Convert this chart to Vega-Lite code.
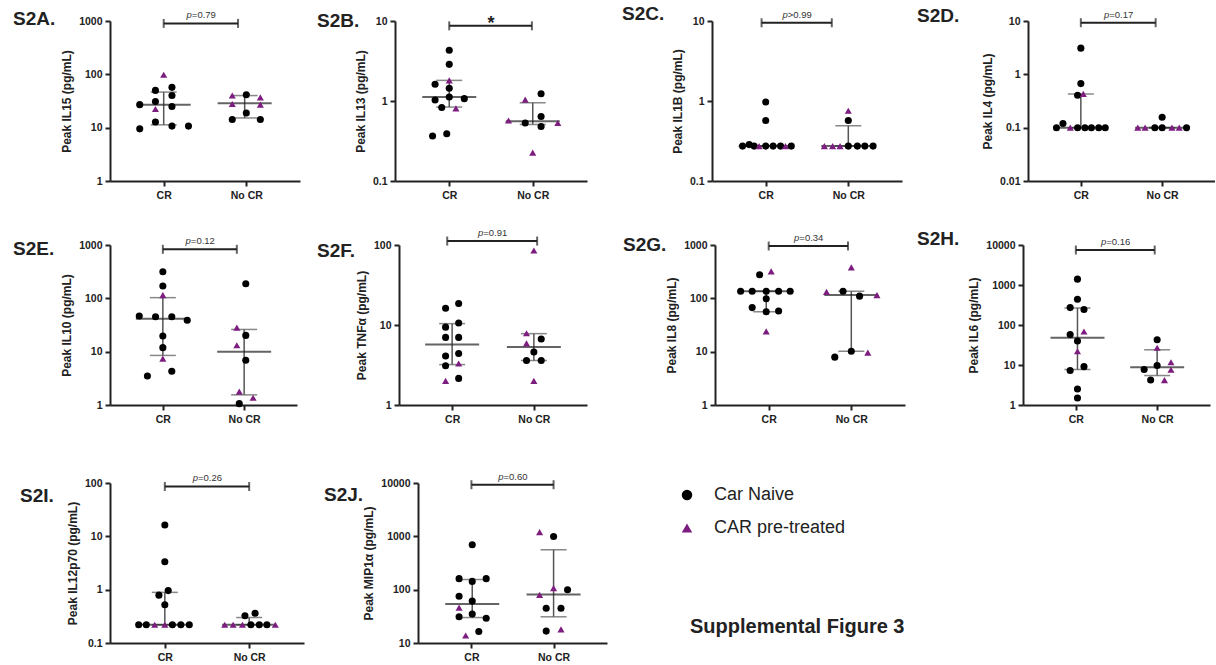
{
"$schema":"https://vega.github.io/schema/vega-lite/v6.json",
"background":"white",
"padding":{"left":13,"top":4,"right":0,"bottom":0},
"config":{
 "view":{"stroke":null},
 "font":"Liberation Sans",
 "title":{"fontSize":19,"fontWeight":"bold","color":"#222","font":"Liberation Sans","anchor":"start","frame":"group","offset":4},
 "axis":{"grid":false,"domainColor":"#222","domainWidth":2,"tickColor":"#222","tickWidth":2,"tickSize":5,"labelFont":"Liberation Sans","labelFontWeight":"bold","labelFontSize":10.5,"labelColor":"#222","labelPadding":3,"titleFont":"Liberation Sans","titleFontWeight":"bold","titleFontSize":12,"titleColor":"#222","titlePadding":5},
 "axisX":{"labelAngle":0,"labelPadding":4},
 "legend":{"orient":"none","legendX":580,"legendY":465,"symbolSize":110,"symbolStrokeWidth":0,"symbolOffset":-12,"labelFont":"Liberation Sans","labelFontSize":18,"labelColor":"#222","labelOffset":18,"rowPadding":15,"padding":0,"titleOrient":"bottom","titleAnchor":"start","titleFont":"Liberation Sans","titleFontSize":20,"titleFontWeight":"bold","titleColor":"#222","titlePadding":80,"titleLimit":500}
},
"datasets":{
"pts":[
{"p":"A","x":1.0,"v":98,"s":"CAR pre-treated"},
{"p":"A","x":0.9,"v":50,"s":"Car Naive"},
{"p":"A","x":1.1,"v":57,"s":"Car Naive"},
{"p":"A","x":1.1,"v":40,"s":"Car Naive"},
{"p":"A","x":0.71,"v":27,"s":"Car Naive"},
{"p":"A","x":0.9,"v":31,"s":"Car Naive"},
{"p":"A","x":0.9,"v":22.4,"s":"CAR pre-treated"},
{"p":"A","x":1.1,"v":25,"s":"Car Naive"},
{"p":"A","x":0.9,"v":12.8,"s":"Car Naive"},
{"p":"A","x":1.1,"v":10.7,"s":"Car Naive"},
{"p":"A","x":1.3,"v":10.7,"s":"Car Naive"},
{"p":"A","x":0.71,"v":9.5,"s":"Car Naive"},
{"p":"A","x":1.83,"v":40,"s":"CAR pre-treated"},
{"p":"A","x":2.0,"v":41.5,"s":"Car Naive"},
{"p":"A","x":2.17,"v":37,"s":"CAR pre-treated"},
{"p":"A","x":1.83,"v":27.8,"s":"CAR pre-treated"},
{"p":"A","x":2.17,"v":27,"s":"CAR pre-treated"},
{"p":"A","x":2.0,"v":18.9,"s":"Car Naive"},
{"p":"A","x":1.83,"v":14.2,"s":"Car Naive"},
{"p":"A","x":2.17,"v":14.2,"s":"Car Naive"},
{"p":"B","x":1.0,"v":4.3,"s":"Car Naive"},
{"p":"B","x":1.0,"v":2.87,"s":"Car Naive"},
{"p":"B","x":1.0,"v":1.81,"s":"CAR pre-treated"},
{"p":"B","x":0.83,"v":1.62,"s":"Car Naive"},
{"p":"B","x":1.0,"v":1.44,"s":"Car Naive"},
{"p":"B","x":0.83,"v":1.03,"s":"Car Naive"},
{"p":"B","x":1.0,"v":1.12,"s":"Car Naive"},
{"p":"B","x":1.18,"v":1.07,"s":"Car Naive"},
{"p":"B","x":0.91,"v":0.83,"s":"Car Naive"},
{"p":"B","x":1.08,"v":0.81,"s":"CAR pre-treated"},
{"p":"B","x":0.8,"v":0.365,"s":"Car Naive"},
{"p":"B","x":0.97,"v":0.39,"s":"Car Naive"},
{"p":"B","x":1.91,"v":1.04,"s":"CAR pre-treated"},
{"p":"B","x":2.1,"v":1.23,"s":"Car Naive"},
{"p":"B","x":2.1,"v":0.64,"s":"Car Naive"},
{"p":"B","x":1.71,"v":0.57,"s":"CAR pre-treated"},
{"p":"B","x":1.91,"v":0.53,"s":"Car Naive"},
{"p":"B","x":2.1,"v":0.48,"s":"Car Naive"},
{"p":"B","x":2.3,"v":0.53,"s":"CAR pre-treated"},
{"p":"B","x":2.0,"v":0.226,"s":"CAR pre-treated"},
{"p":"C","x":1.0,"v":0.97,"s":"Car Naive"},
{"p":"C","x":1.0,"v":0.57,"s":"Car Naive"},
{"p":"C","x":0.72,"v":0.273,"s":"Car Naive"},
{"p":"C","x":0.8,"v":0.285,"s":"Car Naive"},
{"p":"C","x":0.86,"v":0.273,"s":"Car Naive"},
{"p":"C","x":0.92,"v":0.273,"s":"CAR pre-treated"},
{"p":"C","x":1.0,"v":0.273,"s":"Car Naive"},
{"p":"C","x":1.09,"v":0.273,"s":"Car Naive"},
{"p":"C","x":1.18,"v":0.273,"s":"Car Naive"},
{"p":"C","x":1.24,"v":0.273,"s":"CAR pre-treated"},
{"p":"C","x":1.31,"v":0.273,"s":"Car Naive"},
{"p":"C","x":2.0,"v":0.754,"s":"CAR pre-treated"},
{"p":"C","x":2.0,"v":0.57,"s":"Car Naive"},
{"p":"C","x":1.71,"v":0.273,"s":"CAR pre-treated"},
{"p":"C","x":1.81,"v":0.273,"s":"CAR pre-treated"},
{"p":"C","x":1.9,"v":0.273,"s":"CAR pre-treated"},
{"p":"C","x":2.0,"v":0.273,"s":"Car Naive"},
{"p":"C","x":2.11,"v":0.273,"s":"Car Naive"},
{"p":"C","x":2.2,"v":0.273,"s":"Car Naive"},
{"p":"C","x":2.3,"v":0.273,"s":"Car Naive"},
{"p":"D","x":1.0,"v":3.1,"s":"Car Naive"},
{"p":"D","x":1.0,"v":0.67,"s":"Car Naive"},
{"p":"D","x":0.96,"v":0.405,"s":"Car Naive"},
{"p":"D","x":1.03,"v":0.43,"s":"CAR pre-treated"},
{"p":"D","x":0.78,"v":0.12,"s":"Car Naive"},
{"p":"D","x":0.7,"v":0.1,"s":"Car Naive"},
{"p":"D","x":0.87,"v":0.1,"s":"CAR pre-treated"},
{"p":"D","x":0.96,"v":0.1,"s":"Car Naive"},
{"p":"D","x":1.05,"v":0.1,"s":"Car Naive"},
{"p":"D","x":1.13,"v":0.1,"s":"Car Naive"},
{"p":"D","x":1.22,"v":0.1,"s":"Car Naive"},
{"p":"D","x":1.3,"v":0.1,"s":"Car Naive"},
{"p":"D","x":2.0,"v":0.157,"s":"Car Naive"},
{"p":"D","x":1.7,"v":0.1,"s":"CAR pre-treated"},
{"p":"D","x":1.79,"v":0.1,"s":"CAR pre-treated"},
{"p":"D","x":1.91,"v":0.1,"s":"Car Naive"},
{"p":"D","x":2.0,"v":0.1,"s":"Car Naive"},
{"p":"D","x":2.12,"v":0.1,"s":"CAR pre-treated"},
{"p":"D","x":2.21,"v":0.1,"s":"CAR pre-treated"},
{"p":"D","x":2.3,"v":0.1,"s":"Car Naive"},
{"p":"E","x":1.0,"v":316,"s":"Car Naive"},
{"p":"E","x":1.0,"v":170,"s":"Car Naive"},
{"p":"E","x":1.0,"v":115,"s":"CAR pre-treated"},
{"p":"E","x":0.71,"v":46.7,"s":"Car Naive"},
{"p":"E","x":0.91,"v":45.3,"s":"Car Naive"},
{"p":"E","x":1.11,"v":45.3,"s":"Car Naive"},
{"p":"E","x":1.3,"v":38.7,"s":"Car Naive"},
{"p":"E","x":1.0,"v":19.7,"s":"Car Naive"},
{"p":"E","x":1.0,"v":11.9,"s":"Car Naive"},
{"p":"E","x":1.0,"v":7.4,"s":"CAR pre-treated"},
{"p":"E","x":0.81,"v":3.5,"s":"Car Naive"},
{"p":"E","x":1.11,"v":4.3,"s":"Car Naive"},
{"p":"E","x":2.02,"v":188,"s":"Car Naive"},
{"p":"E","x":1.91,"v":28.2,"s":"CAR pre-treated"},
{"p":"E","x":2.02,"v":20.2,"s":"Car Naive"},
{"p":"E","x":1.91,"v":13.2,"s":"CAR pre-treated"},
{"p":"E","x":2.02,"v":6.9,"s":"Car Naive"},
{"p":"E","x":1.94,"v":1.78,"s":"CAR pre-treated"},
{"p":"E","x":2.11,"v":1.37,"s":"CAR pre-treated"},
{"p":"E","x":1.94,"v":1.06,"s":"Car Naive"},
{"p":"F","x":0.92,"v":16.2,"s":"Car Naive"},
{"p":"F","x":1.08,"v":18.6,"s":"Car Naive"},
{"p":"F","x":0.92,"v":9.4,"s":"Car Naive"},
{"p":"F","x":1.08,"v":10.6,"s":"Car Naive"},
{"p":"F","x":0.92,"v":7.0,"s":"Car Naive"},
{"p":"F","x":1.08,"v":7.0,"s":"Car Naive"},
{"p":"F","x":0.92,"v":4.1,"s":"Car Naive"},
{"p":"F","x":1.08,"v":4.4,"s":"Car Naive"},
{"p":"F","x":0.92,"v":3.1,"s":"Car Naive"},
{"p":"F","x":1.08,"v":3.3,"s":"CAR pre-treated"},
{"p":"F","x":0.92,"v":2.0,"s":"CAR pre-treated"},
{"p":"F","x":1.08,"v":2.15,"s":"Car Naive"},
{"p":"F","x":2.0,"v":85.5,"s":"CAR pre-treated"},
{"p":"F","x":1.91,"v":7.9,"s":"CAR pre-treated"},
{"p":"F","x":2.09,"v":6.7,"s":"Car Naive"},
{"p":"F","x":1.91,"v":5.9,"s":"CAR pre-treated"},
{"p":"F","x":2.0,"v":4.6,"s":"Car Naive"},
{"p":"F","x":1.91,"v":3.6,"s":"Car Naive"},
{"p":"F","x":2.09,"v":3.6,"s":"Car Naive"},
{"p":"F","x":2.0,"v":2.0,"s":"CAR pre-treated"},
{"p":"G","x":0.89,"v":277,"s":"Car Naive"},
{"p":"G","x":1.03,"v":320,"s":"CAR pre-treated"},
{"p":"G","x":0.66,"v":136,"s":"Car Naive"},
{"p":"G","x":0.8,"v":136,"s":"Car Naive"},
{"p":"G","x":0.97,"v":136,"s":"Car Naive"},
{"p":"G","x":1.12,"v":136,"s":"Car Naive"},
{"p":"G","x":1.26,"v":136,"s":"Car Naive"},
{"p":"G","x":0.97,"v":98,"s":"Car Naive"},
{"p":"G","x":0.8,"v":67,"s":"Car Naive"},
{"p":"G","x":0.97,"v":56,"s":"Car Naive"},
{"p":"G","x":1.12,"v":58,"s":"Car Naive"},
{"p":"G","x":0.97,"v":24,"s":"CAR pre-treated"},
{"p":"G","x":2.0,"v":380,"s":"CAR pre-treated"},
{"p":"G","x":1.7,"v":132,"s":"CAR pre-treated"},
{"p":"G","x":1.9,"v":136,"s":"Car Naive"},
{"p":"G","x":2.1,"v":110,"s":"Car Naive"},
{"p":"G","x":2.31,"v":115,"s":"CAR pre-treated"},
{"p":"G","x":2.0,"v":10.2,"s":"Car Naive"},
{"p":"G","x":1.8,"v":7.9,"s":"Car Naive"},
{"p":"G","x":2.2,"v":9.6,"s":"CAR pre-treated"},
{"p":"H","x":1.02,"v":1400,"s":"Car Naive"},
{"p":"H","x":1.02,"v":441,"s":"Car Naive"},
{"p":"H","x":0.93,"v":272,"s":"Car Naive"},
{"p":"H","x":1.1,"v":243,"s":"Car Naive"},
{"p":"H","x":1.1,"v":69,"s":"CAR pre-treated"},
{"p":"H","x":0.93,"v":58,"s":"Car Naive"},
{"p":"H","x":1.02,"v":40,"s":"Car Naive"},
{"p":"H","x":1.02,"v":22,"s":"CAR pre-treated"},
{"p":"H","x":0.93,"v":7.3,"s":"Car Naive"},
{"p":"H","x":1.1,"v":9.1,"s":"Car Naive"},
{"p":"H","x":1.02,"v":2.5,"s":"Car Naive"},
{"p":"H","x":1.02,"v":1.5,"s":"Car Naive"},
{"p":"H","x":2.0,"v":43,"s":"Car Naive"},
{"p":"H","x":2.0,"v":27,"s":"CAR pre-treated"},
{"p":"H","x":1.84,"v":7.7,"s":"Car Naive"},
{"p":"H","x":2.0,"v":9.7,"s":"Car Naive"},
{"p":"H","x":2.17,"v":11.7,"s":"CAR pre-treated"},
{"p":"H","x":2.17,"v":7.6,"s":"CAR pre-treated"},
{"p":"H","x":1.92,"v":4.2,"s":"Car Naive"},
{"p":"H","x":2.09,"v":4.2,"s":"CAR pre-treated"},
{"p":"I","x":1.0,"v":16.3,"s":"Car Naive"},
{"p":"I","x":1.0,"v":3.35,"s":"Car Naive"},
{"p":"I","x":1.04,"v":0.96,"s":"Car Naive"},
{"p":"I","x":0.93,"v":0.79,"s":"Car Naive"},
{"p":"I","x":1.0,"v":0.52,"s":"Car Naive"},
{"p":"I","x":0.69,"v":0.22,"s":"Car Naive"},
{"p":"I","x":0.78,"v":0.22,"s":"Car Naive"},
{"p":"I","x":0.88,"v":0.22,"s":"CAR pre-treated"},
{"p":"I","x":1.0,"v":0.22,"s":"CAR pre-treated"},
{"p":"I","x":1.09,"v":0.22,"s":"Car Naive"},
{"p":"I","x":1.19,"v":0.22,"s":"Car Naive"},
{"p":"I","x":1.29,"v":0.22,"s":"Car Naive"},
{"p":"I","x":1.95,"v":0.325,"s":"Car Naive"},
{"p":"I","x":2.07,"v":0.36,"s":"Car Naive"},
{"p":"I","x":1.71,"v":0.22,"s":"CAR pre-treated"},
{"p":"I","x":1.81,"v":0.22,"s":"CAR pre-treated"},
{"p":"I","x":1.92,"v":0.22,"s":"CAR pre-treated"},
{"p":"I","x":2.02,"v":0.22,"s":"Car Naive"},
{"p":"I","x":2.12,"v":0.22,"s":"Car Naive"},
{"p":"I","x":2.21,"v":0.22,"s":"Car Naive"},
{"p":"I","x":2.31,"v":0.22,"s":"CAR pre-treated"},
{"p":"J","x":1.01,"v":697,"s":"Car Naive"},
{"p":"J","x":0.85,"v":161,"s":"Car Naive"},
{"p":"J","x":1.01,"v":143,"s":"Car Naive"},
{"p":"J","x":1.18,"v":161,"s":"Car Naive"},
{"p":"J","x":0.85,"v":75,"s":"Car Naive"},
{"p":"J","x":1.01,"v":61,"s":"Car Naive"},
{"p":"J","x":0.85,"v":46,"s":"CAR pre-treated"},
{"p":"J","x":0.85,"v":31,"s":"Car Naive"},
{"p":"J","x":1.01,"v":35,"s":"Car Naive"},
{"p":"J","x":1.18,"v":29,"s":"Car Naive"},
{"p":"J","x":1.09,"v":16.4,"s":"Car Naive"},
{"p":"J","x":0.93,"v":13.8,"s":"CAR pre-treated"},
{"p":"J","x":1.83,"v":1197,"s":"CAR pre-treated"},
{"p":"J","x":2.0,"v":990,"s":"Car Naive"},
{"p":"J","x":2.0,"v":107,"s":"CAR pre-treated"},
{"p":"J","x":2.17,"v":100,"s":"Car Naive"},
{"p":"J","x":1.83,"v":80,"s":"CAR pre-treated"},
{"p":"J","x":1.91,"v":45,"s":"Car Naive"},
{"p":"J","x":2.09,"v":45,"s":"Car Naive"},
{"p":"J","x":1.91,"v":16.7,"s":"Car Naive"},
{"p":"J","x":2.09,"v":18,"s":"CAR pre-treated"}
],
"sum":[
{"p":"A","x":1.0,"med":27,"q1":11.3,"q3":46.5},
{"p":"A","x":1.98,"med":28.6,"q1":15.2,"q3":40},
{"p":"B","x":1.0,"med":1.12,"q1":0.84,"q3":1.81},
{"p":"B","x":2.0,"med":0.56,"q1":0.51,"q3":0.95},
{"p":"C","x":1.0,"med":0.273,"q1":0.273,"q3":0.273},
{"p":"C","x":2.0,"med":0.273,"q1":0.273,"q3":0.49},
{"p":"D","x":1.0,"med":0.1,"q1":0.1,"q3":0.43},
{"p":"D","x":2.0,"med":0.1,"q1":0.1,"q3":0.1},
{"p":"E","x":1.0,"med":41.6,"q1":8.5,"q3":103},
{"p":"E","x":2.0,"med":10.0,"q1":1.55,"q3":26.1},
{"p":"F","x":1.0,"med":5.7,"q1":3.2,"q3":10.4},
{"p":"F","x":2.0,"med":5.3,"q1":3.6,"q3":7.8},
{"p":"G","x":0.97,"med":136,"q1":56,"q3":136},
{"p":"G","x":2.0,"med":115,"q1":10.2,"q3":136},
{"p":"H","x":1.02,"med":48,"q1":7.7,"q3":267},
{"p":"H","x":2.0,"med":8.8,"q1":5.45,"q3":24},
{"p":"I","x":1.0,"med":0.22,"q1":0.22,"q3":0.89},
{"p":"I","x":2.0,"med":0.22,"q1":0.22,"q3":0.3},
{"p":"J","x":1.01,"med":54,"q1":30,"q3":155},
{"p":"J","x":2.0,"med":81,"q1":31,"q3":560}
],
"br":[
{"p":"A","x1":1.0,"x2":1.9,"xm":1.45,"y":900,"pl":"p","rest":"=0.79"},
{"p":"B","x1":1.0,"x2":1.99,"xm":1.5,"y":8.7,"pl":"","rest":"*"},
{"p":"C","x1":0.95,"x2":1.8,"xm":1.375,"y":9.5,"pl":"p","rest":">0.99"},
{"p":"D","x1":1.0,"x2":1.92,"xm":1.46,"y":9.3,"pl":"p","rest":"=0.17"},
{"p":"E","x1":1.0,"x2":1.91,"xm":1.455,"y":830,"pl":"p","rest":"=0.12"},
{"p":"F","x1":0.94,"x2":2.04,"xm":1.49,"y":112,"pl":"p","rest":"=0.91"},
{"p":"G","x1":1.0,"x2":1.96,"xm":1.48,"y":958,"pl":"p","rest":"=0.34"},
{"p":"H","x1":1.0,"x2":1.97,"xm":1.485,"y":7490,"pl":"p","rest":"=0.16"},
{"p":"I","x1":1.0,"x2":2.0,"xm":1.5,"y":86,"pl":"p","rest":"=0.26"},
{"p":"J","x1":1.0,"x2":2.0,"xm":1.5,"y":9290,"pl":"p","rest":"=0.60"}
]
},
"spacing":46,
"vconcat":[
{"spacing":27,"vconcat":[
{"spacing":35,"hconcat":[
{"spacing":17,"hconcat":[
{"width":190,"height":160,"title":{"text":"S2A.","dx":-97,"dy":23},"layer":[
{"data":{"name":"sum"},"transform":[{"filter":"datum.p==='A'"}],"mark":{"type":"rule","color":"#555","strokeWidth":1.5},"encoding":{"x":{"field":"x","type":"quantitative"},"y":{"field":"q1","type":"quantitative"},"y2":{"field":"q3"}}},
{"data":{"name":"sum"},"transform":[{"filter":"datum.p==='A'"}],"mark":{"type":"tick","orient":"horizontal","size":26,"thickness":1.5,"color":"#555"},"encoding":{"x":{"field":"x","type":"quantitative"},"y":{"field":"q1","type":"quantitative"}}},
{"data":{"name":"sum"},"transform":[{"filter":"datum.p==='A'"}],"mark":{"type":"tick","orient":"horizontal","size":26,"thickness":1.5,"color":"#555"},"encoding":{"x":{"field":"x","type":"quantitative"},"y":{"field":"q3","type":"quantitative"}}},
{"data":{"name":"sum"},"transform":[{"filter":"datum.p==='A'"}],"mark":{"type":"tick","orient":"horizontal","size":54,"thickness":2,"color":"#222"},"encoding":{"x":{"field":"x","type":"quantitative"},"y":{"field":"med","type":"quantitative"}}},
{"data":{"name":"br"},"transform":[{"filter":"datum.p==='A'"}],"mark":{"type":"rule","color":"#222","strokeWidth":2},"encoding":{"x":{"field":"x1","type":"quantitative"},"x2":{"field":"x2"},"y":{"field":"y","type":"quantitative"}}},
{"data":{"name":"br"},"transform":[{"filter":"datum.p==='A'"}],"mark":{"type":"tick","orient":"vertical","size":9,"thickness":2,"color":"#222"},"encoding":{"x":{"field":"x1","type":"quantitative"},"y":{"field":"y","type":"quantitative"}}},
{"data":{"name":"br"},"transform":[{"filter":"datum.p==='A'"}],"mark":{"type":"tick","orient":"vertical","size":9,"thickness":2,"color":"#222"},"encoding":{"x":{"field":"x2","type":"quantitative"},"y":{"field":"y","type":"quantitative"}}},
{"data":{"name":"br"},"transform":[{"filter":"datum.p==='A'"}],"mark":{"type":"text","align":"right","baseline":"middle","dx":-9,"dy":-8,"fontSize":9.5,"fontStyle":"italic","color":"#333"},"encoding":{"x":{"field":"xm","type":"quantitative"},"y":{"field":"y","type":"quantitative"},"text":{"field":"pl"}}},
{"data":{"name":"br"},"transform":[{"filter":"datum.p==='A'"}],"mark":{"type":"text","align":"left","baseline":"middle","dx":-9,"dy":-8,"fontSize":9.5,"color":"#333"},"encoding":{"x":{"field":"xm","type":"quantitative"},"y":{"field":"y","type":"quantitative"},"text":{"field":"rest"}}},
{"data":{"name":"pts"},"transform":[{"filter":"datum.p==='A'"}],"mark":{"type":"point","filled":true,"size":50,"opacity":1},"encoding":{"x":{"field":"x","type":"quantitative","scale":{"domain":[0.35,2.65],"nice":false,"zero":false},"axis":{"values":[1,2],"labelExpr":"datum.value == 1 ? 'CR' : 'No CR'","title":null}},"y":{"field":"v","type":"quantitative","scale":{"type":"log","domain":[1,1000]},"axis":{"values":[1,10,100,1000],"format":"~g","title":"Peak IL15 (pg/mL)"}},"color":{"field":"s","type":"nominal","scale":{"domain":["Car Naive","CAR pre-treated"],"range":["#000000","#7d1d80"]},"title":"Supplemental Figure 3"},"shape":{"field":"s","type":"nominal","scale":{"domain":["Car Naive","CAR pre-treated"],"range":["circle","triangle-up"]},"title":"Supplemental Figure 3"}}}
]},
{"width":192,"height":160,"title":{"text":"S2B.","dx":-78,"dy":20},"layer":[
{"data":{"name":"sum"},"transform":[{"filter":"datum.p==='B'"}],"mark":{"type":"rule","color":"#555","strokeWidth":1.5},"encoding":{"x":{"field":"x","type":"quantitative"},"y":{"field":"q1","type":"quantitative"},"y2":{"field":"q3"}}},
{"data":{"name":"sum"},"transform":[{"filter":"datum.p==='B'"}],"mark":{"type":"tick","orient":"horizontal","size":26,"thickness":1.5,"color":"#555"},"encoding":{"x":{"field":"x","type":"quantitative"},"y":{"field":"q1","type":"quantitative"}}},
{"data":{"name":"sum"},"transform":[{"filter":"datum.p==='B'"}],"mark":{"type":"tick","orient":"horizontal","size":26,"thickness":1.5,"color":"#555"},"encoding":{"x":{"field":"x","type":"quantitative"},"y":{"field":"q3","type":"quantitative"}}},
{"data":{"name":"sum"},"transform":[{"filter":"datum.p==='B'"}],"mark":{"type":"tick","orient":"horizontal","size":54,"thickness":2,"color":"#222"},"encoding":{"x":{"field":"x","type":"quantitative"},"y":{"field":"med","type":"quantitative"}}},
{"data":{"name":"br"},"transform":[{"filter":"datum.p==='B'"}],"mark":{"type":"rule","color":"#222","strokeWidth":2},"encoding":{"x":{"field":"x1","type":"quantitative"},"x2":{"field":"x2"},"y":{"field":"y","type":"quantitative"}}},
{"data":{"name":"br"},"transform":[{"filter":"datum.p==='B'"}],"mark":{"type":"tick","orient":"vertical","size":9,"thickness":2,"color":"#222"},"encoding":{"x":{"field":"x1","type":"quantitative"},"y":{"field":"y","type":"quantitative"}}},
{"data":{"name":"br"},"transform":[{"filter":"datum.p==='B'"}],"mark":{"type":"tick","orient":"vertical","size":9,"thickness":2,"color":"#222"},"encoding":{"x":{"field":"x2","type":"quantitative"},"y":{"field":"y","type":"quantitative"}}},
{"data":{"name":"br"},"transform":[{"filter":"datum.p==='B'"}],"mark":{"type":"text","align":"center","baseline":"middle","dy":-2,"fontSize":18,"fontWeight":"bold","color":"#222"},"encoding":{"x":{"field":"xm","type":"quantitative"},"y":{"field":"y","type":"quantitative"},"text":{"field":"rest"}}},
{"data":{"name":"pts"},"transform":[{"filter":"datum.p==='B'"}],"mark":{"type":"point","filled":true,"size":50,"opacity":1},"encoding":{"x":{"field":"x","type":"quantitative","scale":{"domain":[0.35,2.65],"nice":false,"zero":false},"axis":{"values":[1,2],"labelExpr":"datum.value == 1 ? 'CR' : 'No CR'","title":null}},"y":{"field":"v","type":"quantitative","scale":{"type":"log","domain":[0.1,10]},"axis":{"values":[0.1,1,10],"format":"~g","title":"Peak IL13 (pg/mL)"}},"color":{"field":"s","type":"nominal","scale":{"domain":["Car Naive","CAR pre-treated"],"range":["#000000","#7d1d80"]},"title":"Supplemental Figure 3"},"shape":{"field":"s","type":"nominal","scale":{"domain":["Car Naive","CAR pre-treated"],"range":["circle","triangle-up"]},"title":"Supplemental Figure 3"}}}
]}
]},
{"spacing":15,"hconcat":[
{"width":190,"height":160,"title":{"text":"S2C.","dx":-90,"dy":18},"layer":[
{"data":{"name":"sum"},"transform":[{"filter":"datum.p==='C'"}],"mark":{"type":"rule","color":"#555","strokeWidth":1.5},"encoding":{"x":{"field":"x","type":"quantitative"},"y":{"field":"q1","type":"quantitative"},"y2":{"field":"q3"}}},
{"data":{"name":"sum"},"transform":[{"filter":"datum.p==='C'"}],"mark":{"type":"tick","orient":"horizontal","size":26,"thickness":1.5,"color":"#555"},"encoding":{"x":{"field":"x","type":"quantitative"},"y":{"field":"q1","type":"quantitative"}}},
{"data":{"name":"sum"},"transform":[{"filter":"datum.p==='C'"}],"mark":{"type":"tick","orient":"horizontal","size":26,"thickness":1.5,"color":"#555"},"encoding":{"x":{"field":"x","type":"quantitative"},"y":{"field":"q3","type":"quantitative"}}},
{"data":{"name":"sum"},"transform":[{"filter":"datum.p==='C'"}],"mark":{"type":"tick","orient":"horizontal","size":54,"thickness":2,"color":"#222"},"encoding":{"x":{"field":"x","type":"quantitative"},"y":{"field":"med","type":"quantitative"}}},
{"data":{"name":"br"},"transform":[{"filter":"datum.p==='C'"}],"mark":{"type":"rule","color":"#222","strokeWidth":2},"encoding":{"x":{"field":"x1","type":"quantitative"},"x2":{"field":"x2"},"y":{"field":"y","type":"quantitative"}}},
{"data":{"name":"br"},"transform":[{"filter":"datum.p==='C'"}],"mark":{"type":"tick","orient":"vertical","size":9,"thickness":2,"color":"#222"},"encoding":{"x":{"field":"x1","type":"quantitative"},"y":{"field":"y","type":"quantitative"}}},
{"data":{"name":"br"},"transform":[{"filter":"datum.p==='C'"}],"mark":{"type":"tick","orient":"vertical","size":9,"thickness":2,"color":"#222"},"encoding":{"x":{"field":"x2","type":"quantitative"},"y":{"field":"y","type":"quantitative"}}},
{"data":{"name":"br"},"transform":[{"filter":"datum.p==='C'"}],"mark":{"type":"text","align":"right","baseline":"middle","dx":-9,"dy":-8,"fontSize":9.5,"fontStyle":"italic","color":"#333"},"encoding":{"x":{"field":"xm","type":"quantitative"},"y":{"field":"y","type":"quantitative"},"text":{"field":"pl"}}},
{"data":{"name":"br"},"transform":[{"filter":"datum.p==='C'"}],"mark":{"type":"text","align":"left","baseline":"middle","dx":-9,"dy":-8,"fontSize":9.5,"color":"#333"},"encoding":{"x":{"field":"xm","type":"quantitative"},"y":{"field":"y","type":"quantitative"},"text":{"field":"rest"}}},
{"data":{"name":"pts"},"transform":[{"filter":"datum.p==='C'"}],"mark":{"type":"point","filled":true,"size":50,"opacity":1},"encoding":{"x":{"field":"x","type":"quantitative","scale":{"domain":[0.35,2.65],"nice":false,"zero":false},"axis":{"values":[1,2],"labelExpr":"datum.value == 1 ? 'CR' : 'No CR'","title":null}},"y":{"field":"v","type":"quantitative","scale":{"type":"log","domain":[0.1,10]},"axis":{"values":[0.1,1,10],"format":"~g","title":"Peak IL1B (pg/mL)"}},"color":{"field":"s","type":"nominal","scale":{"domain":["Car Naive","CAR pre-treated"],"range":["#000000","#7d1d80"]},"title":"Supplemental Figure 3"},"shape":{"field":"s","type":"nominal","scale":{"domain":["Car Naive","CAR pre-treated"],"range":["circle","triangle-up"]},"title":"Supplemental Figure 3"}}}
]},
{"width":187,"height":160,"title":{"text":"S2D.","dx":-111,"dy":20},"layer":[
{"data":{"name":"sum"},"transform":[{"filter":"datum.p==='D'"}],"mark":{"type":"rule","color":"#555","strokeWidth":1.5},"encoding":{"x":{"field":"x","type":"quantitative"},"y":{"field":"q1","type":"quantitative"},"y2":{"field":"q3"}}},
{"data":{"name":"sum"},"transform":[{"filter":"datum.p==='D'"}],"mark":{"type":"tick","orient":"horizontal","size":26,"thickness":1.5,"color":"#555"},"encoding":{"x":{"field":"x","type":"quantitative"},"y":{"field":"q1","type":"quantitative"}}},
{"data":{"name":"sum"},"transform":[{"filter":"datum.p==='D'"}],"mark":{"type":"tick","orient":"horizontal","size":26,"thickness":1.5,"color":"#555"},"encoding":{"x":{"field":"x","type":"quantitative"},"y":{"field":"q3","type":"quantitative"}}},
{"data":{"name":"sum"},"transform":[{"filter":"datum.p==='D'"}],"mark":{"type":"tick","orient":"horizontal","size":54,"thickness":2,"color":"#222"},"encoding":{"x":{"field":"x","type":"quantitative"},"y":{"field":"med","type":"quantitative"}}},
{"data":{"name":"br"},"transform":[{"filter":"datum.p==='D'"}],"mark":{"type":"rule","color":"#222","strokeWidth":2},"encoding":{"x":{"field":"x1","type":"quantitative"},"x2":{"field":"x2"},"y":{"field":"y","type":"quantitative"}}},
{"data":{"name":"br"},"transform":[{"filter":"datum.p==='D'"}],"mark":{"type":"tick","orient":"vertical","size":9,"thickness":2,"color":"#222"},"encoding":{"x":{"field":"x1","type":"quantitative"},"y":{"field":"y","type":"quantitative"}}},
{"data":{"name":"br"},"transform":[{"filter":"datum.p==='D'"}],"mark":{"type":"tick","orient":"vertical","size":9,"thickness":2,"color":"#222"},"encoding":{"x":{"field":"x2","type":"quantitative"},"y":{"field":"y","type":"quantitative"}}},
{"data":{"name":"br"},"transform":[{"filter":"datum.p==='D'"}],"mark":{"type":"text","align":"right","baseline":"middle","dx":-9,"dy":-8,"fontSize":9.5,"fontStyle":"italic","color":"#333"},"encoding":{"x":{"field":"xm","type":"quantitative"},"y":{"field":"y","type":"quantitative"},"text":{"field":"pl"}}},
{"data":{"name":"br"},"transform":[{"filter":"datum.p==='D'"}],"mark":{"type":"text","align":"left","baseline":"middle","dx":-9,"dy":-8,"fontSize":9.5,"color":"#333"},"encoding":{"x":{"field":"xm","type":"quantitative"},"y":{"field":"y","type":"quantitative"},"text":{"field":"rest"}}},
{"data":{"name":"pts"},"transform":[{"filter":"datum.p==='D'"}],"mark":{"type":"point","filled":true,"size":50,"opacity":1},"encoding":{"x":{"field":"x","type":"quantitative","scale":{"domain":[0.35,2.65],"nice":false,"zero":false},"axis":{"values":[1,2],"labelExpr":"datum.value == 1 ? 'CR' : 'No CR'","title":null}},"y":{"field":"v","type":"quantitative","scale":{"type":"log","domain":[0.01,10]},"axis":{"values":[0.01,0.1,1,10],"format":"~g","title":"Peak IL4 (pg/mL)"}},"color":{"field":"s","type":"nominal","scale":{"domain":["Car Naive","CAR pre-treated"],"range":["#000000","#7d1d80"]},"title":"Supplemental Figure 3"},"shape":{"field":"s","type":"nominal","scale":{"domain":["Car Naive","CAR pre-treated"],"range":["circle","triangle-up"]},"title":"Supplemental Figure 3"}}}
]}
]}
]},
{"spacing":36,"hconcat":[
{"spacing":20,"hconcat":[
{"width":187,"height":160,"title":{"text":"S2E.","dx":-97,"dy":27},"layer":[
{"data":{"name":"sum"},"transform":[{"filter":"datum.p==='E'"}],"mark":{"type":"rule","color":"#555","strokeWidth":1.5},"encoding":{"x":{"field":"x","type":"quantitative"},"y":{"field":"q1","type":"quantitative"},"y2":{"field":"q3"}}},
{"data":{"name":"sum"},"transform":[{"filter":"datum.p==='E'"}],"mark":{"type":"tick","orient":"horizontal","size":26,"thickness":1.5,"color":"#555"},"encoding":{"x":{"field":"x","type":"quantitative"},"y":{"field":"q1","type":"quantitative"}}},
{"data":{"name":"sum"},"transform":[{"filter":"datum.p==='E'"}],"mark":{"type":"tick","orient":"horizontal","size":26,"thickness":1.5,"color":"#555"},"encoding":{"x":{"field":"x","type":"quantitative"},"y":{"field":"q3","type":"quantitative"}}},
{"data":{"name":"sum"},"transform":[{"filter":"datum.p==='E'"}],"mark":{"type":"tick","orient":"horizontal","size":54,"thickness":2,"color":"#222"},"encoding":{"x":{"field":"x","type":"quantitative"},"y":{"field":"med","type":"quantitative"}}},
{"data":{"name":"br"},"transform":[{"filter":"datum.p==='E'"}],"mark":{"type":"rule","color":"#222","strokeWidth":2},"encoding":{"x":{"field":"x1","type":"quantitative"},"x2":{"field":"x2"},"y":{"field":"y","type":"quantitative"}}},
{"data":{"name":"br"},"transform":[{"filter":"datum.p==='E'"}],"mark":{"type":"tick","orient":"vertical","size":9,"thickness":2,"color":"#222"},"encoding":{"x":{"field":"x1","type":"quantitative"},"y":{"field":"y","type":"quantitative"}}},
{"data":{"name":"br"},"transform":[{"filter":"datum.p==='E'"}],"mark":{"type":"tick","orient":"vertical","size":9,"thickness":2,"color":"#222"},"encoding":{"x":{"field":"x2","type":"quantitative"},"y":{"field":"y","type":"quantitative"}}},
{"data":{"name":"br"},"transform":[{"filter":"datum.p==='E'"}],"mark":{"type":"text","align":"right","baseline":"middle","dx":-9,"dy":-8,"fontSize":9.5,"fontStyle":"italic","color":"#333"},"encoding":{"x":{"field":"xm","type":"quantitative"},"y":{"field":"y","type":"quantitative"},"text":{"field":"pl"}}},
{"data":{"name":"br"},"transform":[{"filter":"datum.p==='E'"}],"mark":{"type":"text","align":"left","baseline":"middle","dx":-9,"dy":-8,"fontSize":9.5,"color":"#333"},"encoding":{"x":{"field":"xm","type":"quantitative"},"y":{"field":"y","type":"quantitative"},"text":{"field":"rest"}}},
{"data":{"name":"pts"},"transform":[{"filter":"datum.p==='E'"}],"mark":{"type":"point","filled":true,"size":50,"opacity":1},"encoding":{"x":{"field":"x","type":"quantitative","scale":{"domain":[0.35,2.65],"nice":false,"zero":false},"axis":{"values":[1,2],"labelExpr":"datum.value == 1 ? 'CR' : 'No CR'","title":null}},"y":{"field":"v","type":"quantitative","scale":{"type":"log","domain":[1,1000]},"axis":{"values":[1,10,100,1000],"format":"~g","title":"Peak IL10 (pg/mL)"}},"color":{"field":"s","type":"nominal","scale":{"domain":["Car Naive","CAR pre-treated"],"range":["#000000","#7d1d80"]},"title":"Supplemental Figure 3"},"shape":{"field":"s","type":"nominal","scale":{"domain":["Car Naive","CAR pre-treated"],"range":["circle","triangle-up"]},"title":"Supplemental Figure 3"}}}
]},
{"width":188,"height":160,"title":{"text":"S2F.","dx":-82,"dy":37},"layer":[
{"data":{"name":"sum"},"transform":[{"filter":"datum.p==='F'"}],"mark":{"type":"rule","color":"#555","strokeWidth":1.5},"encoding":{"x":{"field":"x","type":"quantitative"},"y":{"field":"q1","type":"quantitative"},"y2":{"field":"q3"}}},
{"data":{"name":"sum"},"transform":[{"filter":"datum.p==='F'"}],"mark":{"type":"tick","orient":"horizontal","size":26,"thickness":1.5,"color":"#555"},"encoding":{"x":{"field":"x","type":"quantitative"},"y":{"field":"q1","type":"quantitative"}}},
{"data":{"name":"sum"},"transform":[{"filter":"datum.p==='F'"}],"mark":{"type":"tick","orient":"horizontal","size":26,"thickness":1.5,"color":"#555"},"encoding":{"x":{"field":"x","type":"quantitative"},"y":{"field":"q3","type":"quantitative"}}},
{"data":{"name":"sum"},"transform":[{"filter":"datum.p==='F'"}],"mark":{"type":"tick","orient":"horizontal","size":54,"thickness":2,"color":"#222"},"encoding":{"x":{"field":"x","type":"quantitative"},"y":{"field":"med","type":"quantitative"}}},
{"data":{"name":"br"},"transform":[{"filter":"datum.p==='F'"}],"mark":{"type":"rule","color":"#222","strokeWidth":2},"encoding":{"x":{"field":"x1","type":"quantitative"},"x2":{"field":"x2"},"y":{"field":"y","type":"quantitative"}}},
{"data":{"name":"br"},"transform":[{"filter":"datum.p==='F'"}],"mark":{"type":"tick","orient":"vertical","size":9,"thickness":2,"color":"#222"},"encoding":{"x":{"field":"x1","type":"quantitative"},"y":{"field":"y","type":"quantitative"}}},
{"data":{"name":"br"},"transform":[{"filter":"datum.p==='F'"}],"mark":{"type":"tick","orient":"vertical","size":9,"thickness":2,"color":"#222"},"encoding":{"x":{"field":"x2","type":"quantitative"},"y":{"field":"y","type":"quantitative"}}},
{"data":{"name":"br"},"transform":[{"filter":"datum.p==='F'"}],"mark":{"type":"text","align":"right","baseline":"middle","dx":-9,"dy":-8,"fontSize":9.5,"fontStyle":"italic","color":"#333"},"encoding":{"x":{"field":"xm","type":"quantitative"},"y":{"field":"y","type":"quantitative"},"text":{"field":"pl"}}},
{"data":{"name":"br"},"transform":[{"filter":"datum.p==='F'"}],"mark":{"type":"text","align":"left","baseline":"middle","dx":-9,"dy":-8,"fontSize":9.5,"color":"#333"},"encoding":{"x":{"field":"xm","type":"quantitative"},"y":{"field":"y","type":"quantitative"},"text":{"field":"rest"}}},
{"data":{"name":"pts"},"transform":[{"filter":"datum.p==='F'"}],"mark":{"type":"point","filled":true,"size":50,"opacity":1},"encoding":{"x":{"field":"x","type":"quantitative","scale":{"domain":[0.35,2.65],"nice":false,"zero":false},"axis":{"values":[1,2],"labelExpr":"datum.value == 1 ? 'CR' : 'No CR'","title":null}},"y":{"field":"v","type":"quantitative","scale":{"type":"log","domain":[1,100]},"axis":{"values":[1,10,100],"format":"~g","title":"Peak TNFα (pg/mL)"}},"color":{"field":"s","type":"nominal","scale":{"domain":["Car Naive","CAR pre-treated"],"range":["#000000","#7d1d80"]},"title":"Supplemental Figure 3"},"shape":{"field":"s","type":"nominal","scale":{"domain":["Car Naive","CAR pre-treated"],"range":["circle","triangle-up"]},"title":"Supplemental Figure 3"}}}
]}
]},
{"spacing":12,"hconcat":[
{"width":190,"height":160,"title":{"text":"S2G.","dx":-92,"dy":26},"layer":[
{"data":{"name":"sum"},"transform":[{"filter":"datum.p==='G'"}],"mark":{"type":"rule","color":"#555","strokeWidth":1.5},"encoding":{"x":{"field":"x","type":"quantitative"},"y":{"field":"q1","type":"quantitative"},"y2":{"field":"q3"}}},
{"data":{"name":"sum"},"transform":[{"filter":"datum.p==='G'"}],"mark":{"type":"tick","orient":"horizontal","size":26,"thickness":1.5,"color":"#555"},"encoding":{"x":{"field":"x","type":"quantitative"},"y":{"field":"q1","type":"quantitative"}}},
{"data":{"name":"sum"},"transform":[{"filter":"datum.p==='G'"}],"mark":{"type":"tick","orient":"horizontal","size":26,"thickness":1.5,"color":"#555"},"encoding":{"x":{"field":"x","type":"quantitative"},"y":{"field":"q3","type":"quantitative"}}},
{"data":{"name":"sum"},"transform":[{"filter":"datum.p==='G'"}],"mark":{"type":"tick","orient":"horizontal","size":54,"thickness":2,"color":"#222"},"encoding":{"x":{"field":"x","type":"quantitative"},"y":{"field":"med","type":"quantitative"}}},
{"data":{"name":"br"},"transform":[{"filter":"datum.p==='G'"}],"mark":{"type":"rule","color":"#222","strokeWidth":2},"encoding":{"x":{"field":"x1","type":"quantitative"},"x2":{"field":"x2"},"y":{"field":"y","type":"quantitative"}}},
{"data":{"name":"br"},"transform":[{"filter":"datum.p==='G'"}],"mark":{"type":"tick","orient":"vertical","size":9,"thickness":2,"color":"#222"},"encoding":{"x":{"field":"x1","type":"quantitative"},"y":{"field":"y","type":"quantitative"}}},
{"data":{"name":"br"},"transform":[{"filter":"datum.p==='G'"}],"mark":{"type":"tick","orient":"vertical","size":9,"thickness":2,"color":"#222"},"encoding":{"x":{"field":"x2","type":"quantitative"},"y":{"field":"y","type":"quantitative"}}},
{"data":{"name":"br"},"transform":[{"filter":"datum.p==='G'"}],"mark":{"type":"text","align":"right","baseline":"middle","dx":-9,"dy":-8,"fontSize":9.5,"fontStyle":"italic","color":"#333"},"encoding":{"x":{"field":"xm","type":"quantitative"},"y":{"field":"y","type":"quantitative"},"text":{"field":"pl"}}},
{"data":{"name":"br"},"transform":[{"filter":"datum.p==='G'"}],"mark":{"type":"text","align":"left","baseline":"middle","dx":-9,"dy":-8,"fontSize":9.5,"color":"#333"},"encoding":{"x":{"field":"xm","type":"quantitative"},"y":{"field":"y","type":"quantitative"},"text":{"field":"rest"}}},
{"data":{"name":"pts"},"transform":[{"filter":"datum.p==='G'"}],"mark":{"type":"point","filled":true,"size":50,"opacity":1},"encoding":{"x":{"field":"x","type":"quantitative","scale":{"domain":[0.35,2.65],"nice":false,"zero":false},"axis":{"values":[1,2],"labelExpr":"datum.value == 1 ? 'CR' : 'No CR'","title":null}},"y":{"field":"v","type":"quantitative","scale":{"type":"log","domain":[1,1000]},"axis":{"values":[1,10,100,1000],"format":"~g","title":"Peak IL8 (pg/mL)"}},"color":{"field":"s","type":"nominal","scale":{"domain":["Car Naive","CAR pre-treated"],"range":["#000000","#7d1d80"]},"title":"Supplemental Figure 3"},"shape":{"field":"s","type":"nominal","scale":{"domain":["Car Naive","CAR pre-treated"],"range":["circle","triangle-up"]},"title":"Supplemental Figure 3"}}}
]},
{"width":187,"height":160,"title":{"text":"S2H.","dx":-106,"dy":16},"layer":[
{"data":{"name":"sum"},"transform":[{"filter":"datum.p==='H'"}],"mark":{"type":"rule","color":"#555","strokeWidth":1.5},"encoding":{"x":{"field":"x","type":"quantitative"},"y":{"field":"q1","type":"quantitative"},"y2":{"field":"q3"}}},
{"data":{"name":"sum"},"transform":[{"filter":"datum.p==='H'"}],"mark":{"type":"tick","orient":"horizontal","size":26,"thickness":1.5,"color":"#555"},"encoding":{"x":{"field":"x","type":"quantitative"},"y":{"field":"q1","type":"quantitative"}}},
{"data":{"name":"sum"},"transform":[{"filter":"datum.p==='H'"}],"mark":{"type":"tick","orient":"horizontal","size":26,"thickness":1.5,"color":"#555"},"encoding":{"x":{"field":"x","type":"quantitative"},"y":{"field":"q3","type":"quantitative"}}},
{"data":{"name":"sum"},"transform":[{"filter":"datum.p==='H'"}],"mark":{"type":"tick","orient":"horizontal","size":54,"thickness":2,"color":"#222"},"encoding":{"x":{"field":"x","type":"quantitative"},"y":{"field":"med","type":"quantitative"}}},
{"data":{"name":"br"},"transform":[{"filter":"datum.p==='H'"}],"mark":{"type":"rule","color":"#222","strokeWidth":2},"encoding":{"x":{"field":"x1","type":"quantitative"},"x2":{"field":"x2"},"y":{"field":"y","type":"quantitative"}}},
{"data":{"name":"br"},"transform":[{"filter":"datum.p==='H'"}],"mark":{"type":"tick","orient":"vertical","size":9,"thickness":2,"color":"#222"},"encoding":{"x":{"field":"x1","type":"quantitative"},"y":{"field":"y","type":"quantitative"}}},
{"data":{"name":"br"},"transform":[{"filter":"datum.p==='H'"}],"mark":{"type":"tick","orient":"vertical","size":9,"thickness":2,"color":"#222"},"encoding":{"x":{"field":"x2","type":"quantitative"},"y":{"field":"y","type":"quantitative"}}},
{"data":{"name":"br"},"transform":[{"filter":"datum.p==='H'"}],"mark":{"type":"text","align":"right","baseline":"middle","dx":-9,"dy":-8,"fontSize":9.5,"fontStyle":"italic","color":"#333"},"encoding":{"x":{"field":"xm","type":"quantitative"},"y":{"field":"y","type":"quantitative"},"text":{"field":"pl"}}},
{"data":{"name":"br"},"transform":[{"filter":"datum.p==='H'"}],"mark":{"type":"text","align":"left","baseline":"middle","dx":-9,"dy":-8,"fontSize":9.5,"color":"#333"},"encoding":{"x":{"field":"xm","type":"quantitative"},"y":{"field":"y","type":"quantitative"},"text":{"field":"rest"}}},
{"data":{"name":"pts"},"transform":[{"filter":"datum.p==='H'"}],"mark":{"type":"point","filled":true,"size":50,"opacity":1},"encoding":{"x":{"field":"x","type":"quantitative","scale":{"domain":[0.35,2.65],"nice":false,"zero":false},"axis":{"values":[1,2],"labelExpr":"datum.value == 1 ? 'CR' : 'No CR'","title":null}},"y":{"field":"v","type":"quantitative","scale":{"type":"log","domain":[1,10000]},"axis":{"values":[1,10,100,1000,10000],"format":"~g","title":"Peak IL6 (pg/mL)"}},"color":{"field":"s","type":"nominal","scale":{"domain":["Car Naive","CAR pre-treated"],"range":["#000000","#7d1d80"]},"title":"Supplemental Figure 3"},"shape":{"field":"s","type":"nominal","scale":{"domain":["Car Naive","CAR pre-treated"],"range":["circle","triangle-up"]},"title":"Supplemental Figure 3"}}}
]}
]}
]}
]},
{"spacing":20,"hconcat":[
{"width":194,"height":160,"title":{"text":"S2I.","dx":-90,"dy":37},"layer":[
{"data":{"name":"sum"},"transform":[{"filter":"datum.p==='I'"}],"mark":{"type":"rule","color":"#555","strokeWidth":1.5},"encoding":{"x":{"field":"x","type":"quantitative"},"y":{"field":"q1","type":"quantitative"},"y2":{"field":"q3"}}},
{"data":{"name":"sum"},"transform":[{"filter":"datum.p==='I'"}],"mark":{"type":"tick","orient":"horizontal","size":26,"thickness":1.5,"color":"#555"},"encoding":{"x":{"field":"x","type":"quantitative"},"y":{"field":"q1","type":"quantitative"}}},
{"data":{"name":"sum"},"transform":[{"filter":"datum.p==='I'"}],"mark":{"type":"tick","orient":"horizontal","size":26,"thickness":1.5,"color":"#555"},"encoding":{"x":{"field":"x","type":"quantitative"},"y":{"field":"q3","type":"quantitative"}}},
{"data":{"name":"sum"},"transform":[{"filter":"datum.p==='I'"}],"mark":{"type":"tick","orient":"horizontal","size":54,"thickness":2,"color":"#222"},"encoding":{"x":{"field":"x","type":"quantitative"},"y":{"field":"med","type":"quantitative"}}},
{"data":{"name":"br"},"transform":[{"filter":"datum.p==='I'"}],"mark":{"type":"rule","color":"#222","strokeWidth":2},"encoding":{"x":{"field":"x1","type":"quantitative"},"x2":{"field":"x2"},"y":{"field":"y","type":"quantitative"}}},
{"data":{"name":"br"},"transform":[{"filter":"datum.p==='I'"}],"mark":{"type":"tick","orient":"vertical","size":9,"thickness":2,"color":"#222"},"encoding":{"x":{"field":"x1","type":"quantitative"},"y":{"field":"y","type":"quantitative"}}},
{"data":{"name":"br"},"transform":[{"filter":"datum.p==='I'"}],"mark":{"type":"tick","orient":"vertical","size":9,"thickness":2,"color":"#222"},"encoding":{"x":{"field":"x2","type":"quantitative"},"y":{"field":"y","type":"quantitative"}}},
{"data":{"name":"br"},"transform":[{"filter":"datum.p==='I'"}],"mark":{"type":"text","align":"right","baseline":"middle","dx":-9,"dy":-8,"fontSize":9.5,"fontStyle":"italic","color":"#333"},"encoding":{"x":{"field":"xm","type":"quantitative"},"y":{"field":"y","type":"quantitative"},"text":{"field":"pl"}}},
{"data":{"name":"br"},"transform":[{"filter":"datum.p==='I'"}],"mark":{"type":"text","align":"left","baseline":"middle","dx":-9,"dy":-8,"fontSize":9.5,"color":"#333"},"encoding":{"x":{"field":"xm","type":"quantitative"},"y":{"field":"y","type":"quantitative"},"text":{"field":"rest"}}},
{"data":{"name":"pts"},"transform":[{"filter":"datum.p==='I'"}],"mark":{"type":"point","filled":true,"size":50,"opacity":1},"encoding":{"x":{"field":"x","type":"quantitative","scale":{"domain":[0.35,2.65],"nice":false,"zero":false},"axis":{"values":[1,2],"labelExpr":"datum.value == 1 ? 'CR' : 'No CR'","title":null}},"y":{"field":"v","type":"quantitative","scale":{"type":"log","domain":[0.1,100]},"axis":{"values":[0.1,1,10,100],"format":"~g","title":"Peak IL12p70 (pg/mL)"}},"color":{"field":"s","type":"nominal","scale":{"domain":["Car Naive","CAR pre-treated"],"range":["#000000","#7d1d80"]},"title":"Supplemental Figure 3"},"shape":{"field":"s","type":"nominal","scale":{"domain":["Car Naive","CAR pre-treated"],"range":["circle","triangle-up"]},"title":"Supplemental Figure 3"}}}
]},
{"width":189,"height":160,"title":{"text":"S2J.","dx":-94,"dy":37},"layer":[
{"data":{"name":"sum"},"transform":[{"filter":"datum.p==='J'"}],"mark":{"type":"rule","color":"#555","strokeWidth":1.5},"encoding":{"x":{"field":"x","type":"quantitative"},"y":{"field":"q1","type":"quantitative"},"y2":{"field":"q3"}}},
{"data":{"name":"sum"},"transform":[{"filter":"datum.p==='J'"}],"mark":{"type":"tick","orient":"horizontal","size":26,"thickness":1.5,"color":"#555"},"encoding":{"x":{"field":"x","type":"quantitative"},"y":{"field":"q1","type":"quantitative"}}},
{"data":{"name":"sum"},"transform":[{"filter":"datum.p==='J'"}],"mark":{"type":"tick","orient":"horizontal","size":26,"thickness":1.5,"color":"#555"},"encoding":{"x":{"field":"x","type":"quantitative"},"y":{"field":"q3","type":"quantitative"}}},
{"data":{"name":"sum"},"transform":[{"filter":"datum.p==='J'"}],"mark":{"type":"tick","orient":"horizontal","size":54,"thickness":2,"color":"#222"},"encoding":{"x":{"field":"x","type":"quantitative"},"y":{"field":"med","type":"quantitative"}}},
{"data":{"name":"br"},"transform":[{"filter":"datum.p==='J'"}],"mark":{"type":"rule","color":"#222","strokeWidth":2},"encoding":{"x":{"field":"x1","type":"quantitative"},"x2":{"field":"x2"},"y":{"field":"y","type":"quantitative"}}},
{"data":{"name":"br"},"transform":[{"filter":"datum.p==='J'"}],"mark":{"type":"tick","orient":"vertical","size":9,"thickness":2,"color":"#222"},"encoding":{"x":{"field":"x1","type":"quantitative"},"y":{"field":"y","type":"quantitative"}}},
{"data":{"name":"br"},"transform":[{"filter":"datum.p==='J'"}],"mark":{"type":"tick","orient":"vertical","size":9,"thickness":2,"color":"#222"},"encoding":{"x":{"field":"x2","type":"quantitative"},"y":{"field":"y","type":"quantitative"}}},
{"data":{"name":"br"},"transform":[{"filter":"datum.p==='J'"}],"mark":{"type":"text","align":"right","baseline":"middle","dx":-9,"dy":-8,"fontSize":9.5,"fontStyle":"italic","color":"#333"},"encoding":{"x":{"field":"xm","type":"quantitative"},"y":{"field":"y","type":"quantitative"},"text":{"field":"pl"}}},
{"data":{"name":"br"},"transform":[{"filter":"datum.p==='J'"}],"mark":{"type":"text","align":"left","baseline":"middle","dx":-9,"dy":-8,"fontSize":9.5,"color":"#333"},"encoding":{"x":{"field":"xm","type":"quantitative"},"y":{"field":"y","type":"quantitative"},"text":{"field":"rest"}}},
{"data":{"name":"pts"},"transform":[{"filter":"datum.p==='J'"}],"mark":{"type":"point","filled":true,"size":50,"opacity":1},"encoding":{"x":{"field":"x","type":"quantitative","scale":{"domain":[0.35,2.65],"nice":false,"zero":false},"axis":{"values":[1,2],"labelExpr":"datum.value == 1 ? 'CR' : 'No CR'","title":null}},"y":{"field":"v","type":"quantitative","scale":{"type":"log","domain":[10,10000]},"axis":{"values":[10,100,1000,10000],"format":"~g","title":"Peak MIP1α (pg/mL)"}},"color":{"field":"s","type":"nominal","scale":{"domain":["Car Naive","CAR pre-treated"],"range":["#000000","#7d1d80"]},"title":"Supplemental Figure 3"},"shape":{"field":"s","type":"nominal","scale":{"domain":["Car Naive","CAR pre-treated"],"range":["circle","triangle-up"]},"title":"Supplemental Figure 3"}}}
]}
]}
]
}
